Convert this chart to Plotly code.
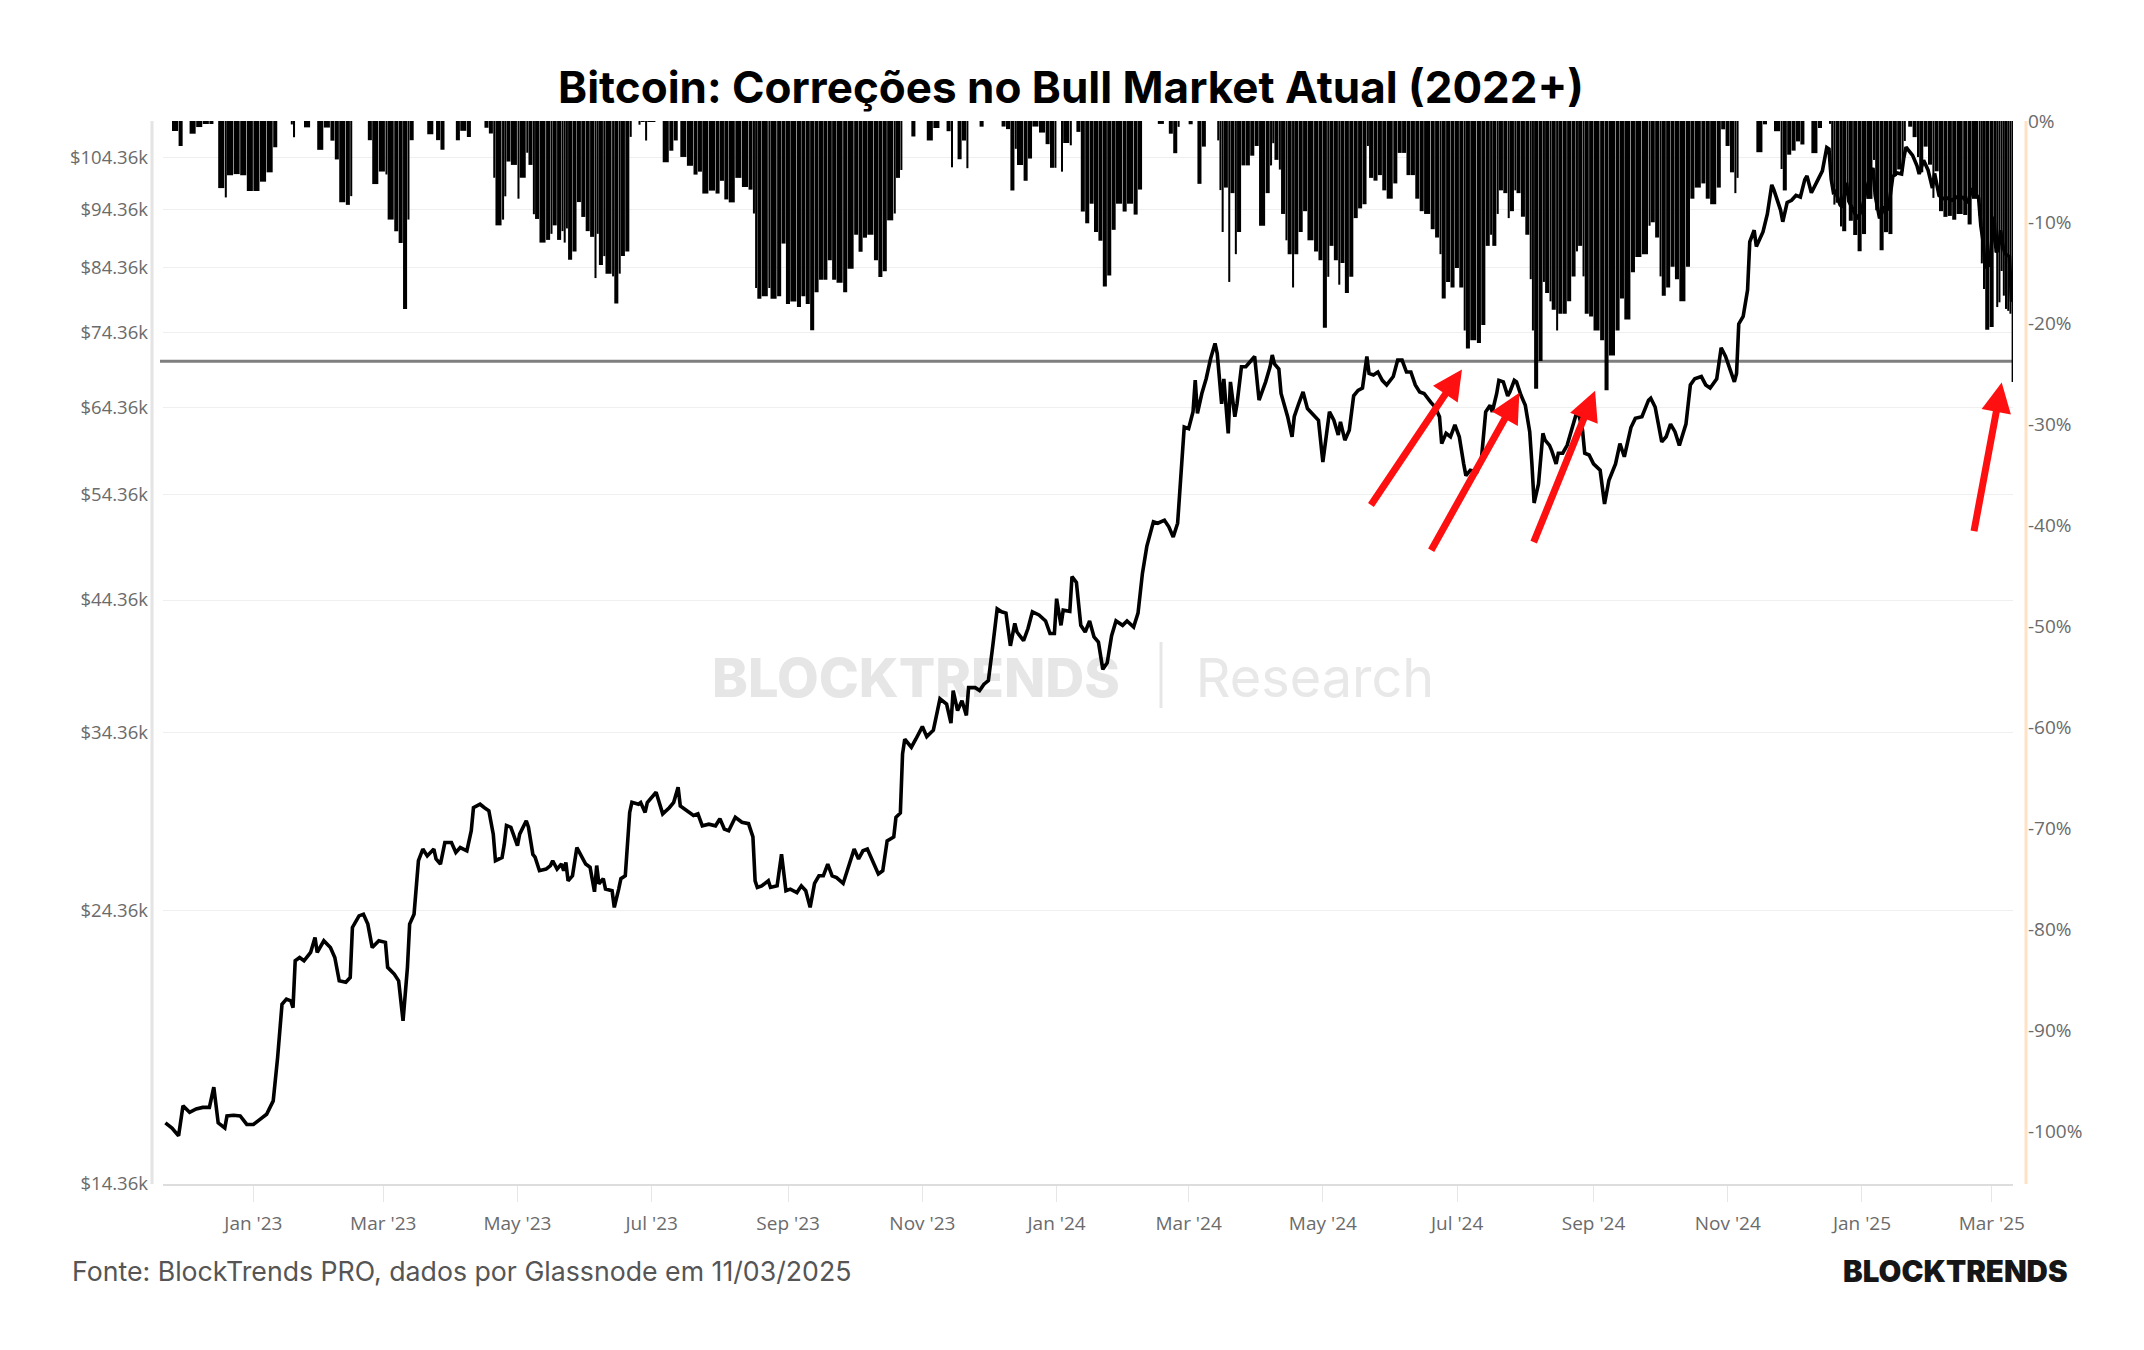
import numpy as np
import pandas as pd
import plotly.graph_objects as go

# ---------------- data (BTC close, thousands of USD) ----------------
dates = [
    "2022-11-22", "2022-11-25", "2022-11-28", "2022-11-30",
    "2022-12-03", "2022-12-06", "2022-12-09", "2022-12-12", "2022-12-14", "2022-12-16", "2022-12-19", "2022-12-20", "2022-12-23", "2022-12-26", "2022-12-29",
    "2023-01-01", "2023-01-04", "2023-01-07", "2023-01-10", "2023-01-12", "2023-01-14", "2023-01-16", "2023-01-18", "2023-01-19", "2023-01-20", "2023-01-22", "2023-01-24", "2023-01-27", "2023-01-29", "2023-01-30",
    "2023-02-02", "2023-02-05", "2023-02-07", "2023-02-09", "2023-02-12", "2023-02-14", "2023-02-15", "2023-02-18", "2023-02-20", "2023-02-22", "2023-02-24", "2023-02-27",
    "2023-03-02", "2023-03-03", "2023-03-06", "2023-03-08", "2023-03-10", "2023-03-12", "2023-03-13", "2023-03-15", "2023-03-17", "2023-03-19", "2023-03-21", "2023-03-24", "2023-03-25", "2023-03-27", "2023-03-29",
    "2023-04-01", "2023-04-03", "2023-04-05", "2023-04-08", "2023-04-10", "2023-04-11", "2023-04-14", "2023-04-16", "2023-04-18", "2023-04-20", "2023-04-21", "2023-04-24", "2023-04-25", "2023-04-26", "2023-04-28",
    "2023-05-01", "2023-05-02", "2023-05-05", "2023-05-06", "2023-05-08", "2023-05-09", "2023-05-11", "2023-05-14", "2023-05-16", "2023-05-17", "2023-05-19", "2023-05-21", "2023-05-22", "2023-05-23", "2023-05-24", "2023-05-26", "2023-05-28", "2023-05-30",
    "2023-06-01", "2023-06-03", "2023-06-05", "2023-06-06", "2023-06-07", "2023-06-09", "2023-06-10", "2023-06-13", "2023-06-14", "2023-06-16", "2023-06-17", "2023-06-19", "2023-06-21", "2023-06-22", "2023-06-25", "2023-06-26", "2023-06-28", "2023-06-29",
    "2023-07-03", "2023-07-06", "2023-07-09", "2023-07-11", "2023-07-13", "2023-07-14", "2023-07-17", "2023-07-20", "2023-07-22", "2023-07-24", "2023-07-27", "2023-07-30",
    "2023-08-01", "2023-08-03", "2023-08-05", "2023-08-08", "2023-08-11", "2023-08-14", "2023-08-16", "2023-08-17", "2023-08-18", "2023-08-20", "2023-08-23", "2023-08-24", "2023-08-27", "2023-08-29", "2023-08-31",
    "2023-09-02", "2023-09-05", "2023-09-07", "2023-09-09", "2023-09-11", "2023-09-13", "2023-09-15", "2023-09-17", "2023-09-19", "2023-09-21", "2023-09-23", "2023-09-26", "2023-09-28",
    "2023-10-01", "2023-10-03", "2023-10-05", "2023-10-07", "2023-10-10", "2023-10-12", "2023-10-14", "2023-10-16", "2023-10-19", "2023-10-20", "2023-10-22", "2023-10-23", "2023-10-24", "2023-10-27", "2023-10-29",
    "2023-11-01", "2023-11-03", "2023-11-06", "2023-11-09", "2023-11-12", "2023-11-14", "2023-11-15", "2023-11-17", "2023-11-19", "2023-11-21", "2023-11-22", "2023-11-25", "2023-11-27", "2023-11-29",
    "2023-12-01", "2023-12-03", "2023-12-05", "2023-12-07", "2023-12-09", "2023-12-11", "2023-12-13", "2023-12-14", "2023-12-17", "2023-12-19", "2023-12-21", "2023-12-24", "2023-12-27", "2023-12-29", "2023-12-31",
    "2024-01-01", "2024-01-03", "2024-01-04", "2024-01-07", "2024-01-08", "2024-01-10", "2024-01-12", "2024-01-14", "2024-01-16", "2024-01-18", "2024-01-20", "2024-01-22", "2024-01-24", "2024-01-26", "2024-01-28", "2024-01-31",
    "2024-02-02", "2024-02-05", "2024-02-07", "2024-02-09", "2024-02-11", "2024-02-14", "2024-02-16", "2024-02-19", "2024-02-21", "2024-02-23", "2024-02-25", "2024-02-26", "2024-02-28",
    "2024-03-01", "2024-03-03", "2024-03-04", "2024-03-05", "2024-03-07", "2024-03-09", "2024-03-11", "2024-03-13", "2024-03-14", "2024-03-15", "2024-03-16", "2024-03-17", "2024-03-19", "2024-03-20", "2024-03-22", "2024-03-23", "2024-03-25", "2024-03-27", "2024-03-29", "2024-03-31",
    "2024-04-02", "2024-04-05", "2024-04-07", "2024-04-08", "2024-04-09", "2024-04-11", "2024-04-12", "2024-04-14", "2024-04-15", "2024-04-17", "2024-04-18", "2024-04-20", "2024-04-22", "2024-04-24", "2024-04-27", "2024-04-29",
    "2024-05-01", "2024-05-03", "2024-05-04", "2024-05-06", "2024-05-08", "2024-05-09", "2024-05-11", "2024-05-13", "2024-05-15", "2024-05-17", "2024-05-19", "2024-05-21", "2024-05-22", "2024-05-24", "2024-05-26", "2024-05-28", "2024-05-30",
    "2024-06-02", "2024-06-04", "2024-06-06", "2024-06-08", "2024-06-10", "2024-06-12", "2024-06-14", "2024-06-16", "2024-06-19", "2024-06-21", "2024-06-23", "2024-06-24", "2024-06-26", "2024-06-28", "2024-06-30",
    "2024-07-02", "2024-07-04", "2024-07-05", "2024-07-07", "2024-07-10", "2024-07-12", "2024-07-14", "2024-07-16", "2024-07-17", "2024-07-19", "2024-07-20", "2024-07-22", "2024-07-24", "2024-07-25", "2024-07-27", "2024-07-28", "2024-07-30",
    "2024-08-01", "2024-08-03", "2024-08-04", "2024-08-05", "2024-08-07", "2024-08-09", "2024-08-10", "2024-08-12", "2024-08-13", "2024-08-15", "2024-08-16", "2024-08-18", "2024-08-20", "2024-08-22", "2024-08-24", "2024-08-25", "2024-08-27", "2024-08-28", "2024-08-30",
    "2024-09-01", "2024-09-04", "2024-09-06", "2024-09-08", "2024-09-11", "2024-09-13", "2024-09-15", "2024-09-18", "2024-09-20", "2024-09-23", "2024-09-26", "2024-09-27", "2024-09-29",
    "2024-10-01", "2024-10-02", "2024-10-04", "2024-10-06", "2024-10-08", "2024-10-10", "2024-10-13", "2024-10-15", "2024-10-17", "2024-10-20", "2024-10-22", "2024-10-24", "2024-10-27", "2024-10-29", "2024-10-31",
    "2024-11-02", "2024-11-04", "2024-11-05", "2024-11-06", "2024-11-08", "2024-11-10", "2024-11-11", "2024-11-13", "2024-11-14", "2024-11-17", "2024-11-19", "2024-11-21", "2024-11-22", "2024-11-25", "2024-11-26", "2024-11-28", "2024-11-30",
    "2024-12-02", "2024-12-04", "2024-12-06", "2024-12-07", "2024-12-09", "2024-12-12", "2024-12-14", "2024-12-16", "2024-12-17", "2024-12-18", "2024-12-19", "2024-12-20", "2024-12-22", "2024-12-23", "2024-12-25", "2024-12-26", "2024-12-28", "2024-12-30",
    "2025-01-01", "2025-01-03", "2025-01-06", "2025-01-07", "2025-01-09", "2025-01-11", "2025-01-13", "2025-01-15", "2025-01-17", "2025-01-19", "2025-01-20", "2025-01-21", "2025-01-22", "2025-01-24", "2025-01-26", "2025-01-27", "2025-01-29", "2025-01-31",
    "2025-02-02", "2025-02-03", "2025-02-05", "2025-02-07", "2025-02-09", "2025-02-11", "2025-02-13", "2025-02-16", "2025-02-18", "2025-02-20", "2025-02-23", "2025-02-24", "2025-02-25", "2025-02-26", "2025-02-28",
    "2025-03-02", "2025-03-03", "2025-03-04", "2025-03-05", "2025-03-06", "2025-03-07", "2025-03-08", "2025-03-09", "2025-03-10",
]

btc_close_k = [
    16.16, 16.00, 15.76, 16.70,
    16.49, 16.60, 16.65, 16.65, 17.31, 16.16, 16.00, 16.38, 16.40, 16.38, 16.11,
    16.11, 16.27, 16.43, 16.86, 18.33, 20.32, 20.52, 20.45, 20.19, 22.10, 22.24, 22.10, 22.46, 23.12, 22.46,
    22.97, 22.67, 22.24, 21.26, 21.20, 21.40, 23.57, 24.10, 24.18, 23.72, 22.67, 22.97,
    22.90, 21.82, 21.54, 21.26, 19.68, 21.82, 23.72, 24.18, 26.81, 27.42, 27.06, 27.42, 26.90, 26.64, 27.77,
    27.77, 27.24, 27.50, 27.33, 28.41, 29.70, 29.90, 29.70, 29.53, 28.22, 26.81, 26.98, 27.67, 28.70, 28.60,
    27.60, 28.22, 28.96, 28.60, 27.14, 27.00, 26.30, 26.38, 26.56, 26.81, 26.38, 26.64, 26.30, 26.72, 25.79, 26.04, 27.50, 27.06,
    26.64, 26.47, 25.25, 26.56, 25.64, 25.90, 25.38, 25.30, 24.50, 25.38, 25.90, 26.04, 29.43, 30.01, 29.90, 30.00, 29.43, 30.00,
    30.60, 29.35, 29.70, 30.01, 30.90, 29.80, 29.53, 29.26, 29.35, 28.68, 28.77, 28.68,
    29.07, 28.50, 28.41, 29.16, 28.88, 28.80, 28.07, 25.79, 25.46, 25.54, 25.79, 25.46, 25.54, 27.15, 25.30,
    25.38, 25.21, 25.54, 25.30, 24.50, 25.66, 26.04, 26.04, 26.64, 26.04, 25.95, 25.66, 26.38,
    27.42, 26.90, 27.33, 27.42, 26.64, 26.13, 26.30, 27.86, 28.07, 29.16, 29.40, 32.96, 33.90, 33.38, 33.90,
    34.74, 34.07, 34.50, 36.65, 36.28, 34.97, 37.24, 35.83, 36.52, 35.50, 37.45, 37.45, 37.24, 37.70,
    37.97, 40.60, 43.60, 43.36, 43.25, 40.60, 42.40, 41.70, 41.02, 41.98, 43.36, 43.10, 42.60, 41.58, 41.58,
    44.47, 42.24, 43.50, 43.40, 46.40, 45.90, 42.24, 41.70, 42.60, 41.30, 40.90, 38.80, 39.30, 41.40, 42.60, 42.24,
    42.60, 42.10, 43.25, 46.70, 49.20, 51.60, 51.45, 51.75, 51.10, 50.10, 51.45, 55.20, 61.96,
    61.76, 63.80, 67.82, 63.60, 66.10, 68.04, 70.72, 72.80, 71.40, 67.82, 64.80, 68.00, 61.20, 67.60, 63.20, 64.80, 69.60, 69.60, 70.30, 71.00,
    65.25, 67.60, 69.60, 71.20, 70.00, 69.30, 66.10, 64.20, 63.20, 60.80, 63.20, 64.80, 66.30, 64.20, 63.40, 62.77,
    57.90, 61.57, 63.80, 62.77, 61.00, 62.57, 60.40, 61.57, 65.80, 66.50, 66.80, 71.00, 68.70, 68.50, 68.90, 67.80, 67.20,
    68.30, 70.50, 70.50, 68.90, 68.90, 67.20, 66.30, 66.10, 65.00, 64.40, 63.20, 60.00, 61.20, 60.80, 62.20,
    60.80, 57.70, 56.40, 57.00, 56.80, 58.10, 63.80, 64.60, 63.80, 66.10, 67.80, 67.60, 65.80, 66.30, 67.80, 67.60, 65.90,
    64.60, 61.40, 57.70, 53.50, 55.50, 61.20, 60.40, 59.80, 59.20, 57.70, 58.90, 58.90, 59.80, 61.60, 63.40, 63.80, 61.60, 58.90, 58.70,
    57.70, 57.00, 53.40, 55.90, 57.70, 60.00, 58.50, 61.90, 63.00, 63.20, 65.25, 65.50, 64.40,
    61.60, 60.20, 60.80, 62.30, 61.40, 59.80, 62.30, 67.20, 68.00, 68.30, 67.20, 66.80, 68.00, 72.20, 71.00,
    69.10, 67.60, 68.70, 75.60, 76.70, 80.70, 88.60, 90.60, 87.80, 90.30, 93.50, 98.90, 97.90, 94.20, 92.10, 95.60, 96.00,
    96.90, 96.60, 99.90, 100.60, 97.40, 99.90, 101.60, 106.30, 106.00, 100.00, 97.50, 97.70, 95.20, 94.70, 99.30, 95.80, 94.30, 92.60,
    94.40, 98.10, 102.20, 96.90, 92.70, 94.60, 94.40, 100.50, 101.20, 101.00, 104.20, 106.40, 105.80, 104.70, 102.60, 101.00, 103.70, 101.80,
    98.30, 101.10, 96.90, 96.30, 96.40, 96.00, 96.60, 96.50, 95.50, 98.20, 96.40, 91.40, 88.70, 84.40, 84.70,
    93.00, 86.80, 87.30, 90.60, 88.00, 86.60, 86.40, 86.10, 78.90,
]

price_tick_vals = [14360, 24360, 34360, 44360, 54360, 64360, 74360, 84360, 94360, 104360]
price_tick_text = ["$14.36k", "$24.36k", "$34.36k", "$44.36k", "$54.36k", "$64.36k", "$74.36k", "$84.36k", "$94.36k", "$104.36k"]
dd_tick_vals = [0, -10, -20, -30, -40, -50, -60, -70, -80, -90, -100]
dd_tick_text = ["0%", "-10%", "-20%", "-30%", "-40%", "-50%", "-60%", "-70%", "-80%", "-90%", "-100%"]
reference_level_pct = -23.8

# arrow tips (date, drawdown %) and tail offsets in px
arrow_tip_dates = ["2024-07-03 05:00", "2024-07-29 07:00", "2024-09-01 17:00", "2025-03-05 12:00"]
arrow_tip_dd = [-24.6, -26.9, -26.7, -25.9]
arrow_dx = [-92, -89, -62, -28]
arrow_dy = [137, 159, 153, 150]

assert len(dates) == len(btc_close_k)

# ---------------- derived series ----------------
x = pd.to_datetime(pd.Series(dates))
price = np.array(btc_close_k) * 1000.0
running_max = np.maximum.accumulate(price)
drawdown = (price / running_max - 1.0) * 100.0

gaps_ms = x.diff().shift(-1).dt.total_seconds().fillna(86400).to_numpy() * 1000.0
bar_width = gaps_ms * 0.92

fig = go.Figure()

fig.add_trace(go.Bar(
    x=x, y=drawdown, yaxis="y2", width=bar_width, offset=0,
    marker=dict(color="black", line=dict(width=0)),
    hoverinfo="skip",
))

fig.add_trace(go.Scatter(
    x=x, y=price, mode="lines",
    line=dict(color="black", width=3.6),
    hoverinfo="skip",
))

W, H = 2144, 1350
L, R, T, B = 163, 131, 121, 166
PW = W - L - R
PH = H - T - B


def px_x(p):
    return (p - L) / PW


def px_y(p):
    return (H - B - p) / PH


fig.update_layout(
    width=W, height=H,
    margin=dict(l=L, r=R, t=T, b=B, pad=0),
    paper_bgcolor="white", plot_bgcolor="white",
    showlegend=False,
    font=dict(family="Open Sans", color="#6b6b6b"),
    title=dict(
        text="Bitcoin: Correções no Bull Market Atual (2022+)",
        x=1071 / W, xanchor="center", xref="container",
        y=1 - 88 / H, yanchor="middle",
        font=dict(family="Inter", size=44, color="black", weight="bold"),
    ),
    xaxis=dict(
        type="date",
        range=["2022-11-20 22:00", "2025-03-10 15:00"],
        tick0="2023-01-01", dtick="M2", tickformat="%b '%y",
        showgrid=False, zeroline=False,
        showline=True, linecolor="#dddddd", linewidth=2,
        ticks="outside", ticklen=16, tickcolor="#e6e6e6", tickwidth=1,
        tickfont=dict(family="Open Sans", size=19, color="#6b6b6b"),
        ticklabelstandoff=5,
    ),
    yaxis=dict(
        type="log",
        range=[np.log10(14360), np.log10(111880)],
        tickvals=price_tick_vals, ticktext=price_tick_text,
        showgrid=True, gridcolor="#efefef", gridwidth=1,
        zeroline=False, showline=False, ticks="",
        tickfont=dict(family="Open Sans", size=18.5, color="#6b6b6b"),
        ticklabelstandoff=14,
    ),
    yaxis2=dict(
        overlaying="y", side="right",
        range=[-105.25, 0],
        tickvals=dd_tick_vals, ticktext=dd_tick_text,
        showgrid=False, zeroline=False, showline=False, ticks="",
        tickfont=dict(family="Open Sans", size=19, color="#6b6b6b"),
        ticklabelstandoff=14,
    ),
)

shapes = [
    # left axis rule (offset from plot)
    dict(type="line", xref="paper", yref="paper", x0=px_x(152), x1=px_x(152), y0=0, y1=1,
         line=dict(color="#e4e4e4", width=3), layer="below"),
    # right axis rule (orange)
    dict(type="line", xref="paper", yref="paper", x0=px_x(2026), x1=px_x(2026), y0=0, y1=1,
         line=dict(color="#ffe2c6", width=3), layer="below"),
    # reference drawdown level
    dict(type="line", xref="paper", yref="y2", x0=px_x(160), x1=1, y0=reference_level_pct, y1=reference_level_pct,
         line=dict(color="#7f7f7f", width=3), layer="between"),
    # watermark
    dict(type="rect", xref="paper", yref="paper", x0=px_x(690), x1=px_x(1142), y0=px_y(700), y1=px_y(650),
         line=dict(width=0), fillcolor="rgba(0,0,0,0)", layer="between",
         label=dict(text="BLOCKTRENDS", textposition="middle center",
                    font=dict(family="Inter", size=54, color="#e6e6e6", weight=800))),
    dict(type="line", xref="paper", yref="paper", x0=px_x(1161), x1=px_x(1161), y0=px_y(642), y1=px_y(708),
         line=dict(color="#e6e6e6", width=3), layer="between"),
    dict(type="rect", xref="paper", yref="paper", x0=px_x(1185), x1=px_x(1445), y0=px_y(700), y1=px_y(650),
         line=dict(width=0), fillcolor="rgba(0,0,0,0)", layer="between",
         label=dict(text="Research", textposition="middle center",
                    font=dict(family="Inter", size=54, color="#e8e8e8", weight=400))),
]
fig.update_layout(shapes=shapes)

annotations = [
    dict(text="Fonte: BlockTrends PRO, dados por Glassnode em 11/03/2025",
         xref="paper", yref="paper", x=px_x(70), y=px_y(1271), xanchor="left", yanchor="middle",
         showarrow=False, font=dict(family="Inter", size=26.7, color="#555555")),
    dict(text="BLOCKTRENDS",
         xref="paper", yref="paper", x=px_x(2070), y=px_y(1271), xanchor="right", yanchor="middle",
         showarrow=False, font=dict(family="Inter", size=29.5, color="#161616", weight=900)),
]
for d, v, dx, dy in zip(arrow_tip_dates, arrow_tip_dd, arrow_dx, arrow_dy):
    annotations.append(dict(
        x=d, y=v, xref="x", yref="y2", text="", showarrow=True,
        ax=dx, ay=dy, axref="pixel", ayref="pixel",
        arrowhead=2, arrowsize=0.85, arrowwidth=7, arrowcolor="#ff1010", standoff=0,
    ))
fig.update_layout(annotations=annotations)

fig.write_html("out.html")
